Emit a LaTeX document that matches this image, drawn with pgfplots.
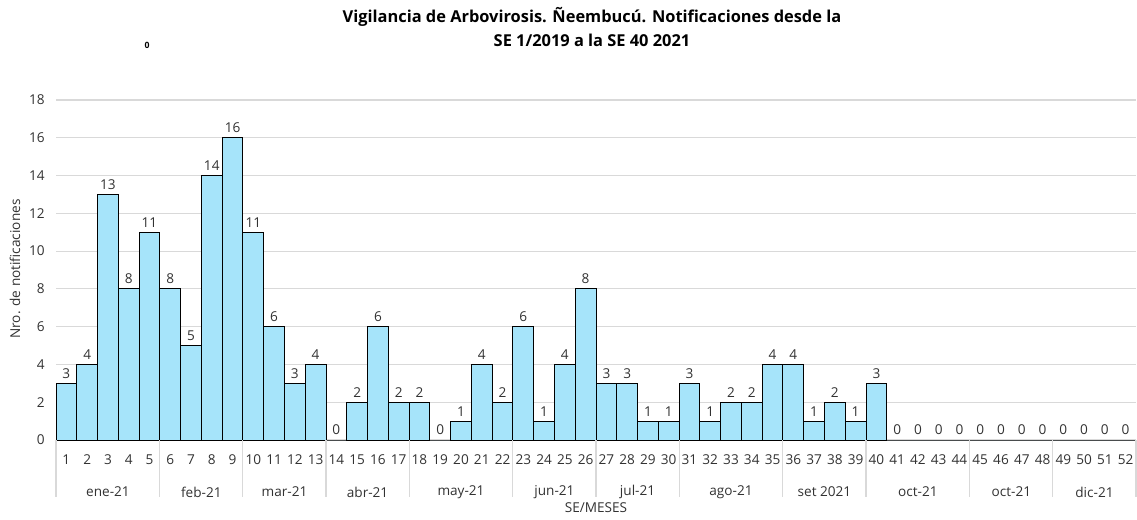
\documentclass[border=0pt]{standalone}
\usepackage{pgfplots}
\pgfplotsset{compat=1.18}
\usepackage{pgfplotstable}
\usepackage{fontspec}
\setmainfont{Open Sans}
\definecolor{barfill}{RGB}{166,228,250}
\definecolor{gridc}{RGB}{217,217,217}
\definecolor{txt}{RGB}{50,50,50}
\pgfplotstableread{
x y
1 3
2 4
3 13
4 8
5 11
6 8
7 5
8 14
9 16
10 11
11 6
12 3
13 4
14 0
15 2
16 6
17 2
18 2
19 0
20 1
21 4
22 2
23 6
24 1
25 4
26 8
27 3
28 3
29 1
30 1
31 3
32 1
33 2
34 2
35 4
36 4
37 1
38 2
39 1
40 3
41 0
42 0
43 0
44 0
45 0
46 0
47 0
48 0
49 0
50 0
51 0
52 0
}\datatable
\begin{document}
\begin{tikzpicture}[x=0.75pt,y=0.75pt]
\useasboundingbox (0,0) rectangle (1137,519);
\begin{axis}[
  at={(42pt,59.25pt)}, anchor=south west, scale only axis,
  width=810pt, height=255pt,
  xmin=0.5, xmax=52.5, ymin=0, ymax=18,
  ytick={0,2,...,18}, xtick={1,...,52},
  /pgf/number format/assume math mode=true,
  axis line style={draw=none},
  major tick length=0pt,
  ymajorgrids, grid style={gridc, line width=0.8pt},
  ticklabel style={font=\fontsize{10.2}{11}\selectfont, text=txt},
  xticklabel style={yshift=-7.5pt},
  yticklabel style={xshift=-5pt},
  clip=false,
  ybar, bar width=1,
  nodes near coords,
  every node near coord/.append style={font=\fontsize{10.2}{11}\selectfont, text=txt},
]
\addplot[fill=barfill, draw=black, line width=0.75pt, bar shift=0pt] table[x=x,y=y] {\datatable};
\foreach \s in {0.5,5.5,9.5,13.5,17.5,22.5,26.5,30.5,35.5,39.5,44.5,48.5,52.5}{
  \edef\temp{\noexpand\draw[gridc, line width=0.8pt] (axis cs:\s,0) -- ++(0pt,-43pt);}
  \temp
}
\foreach \m/\lab in {3/ene-21,7.5/feb-21,11.5/mar-21,15.5/abr-21,20/may-21,24.5/jun-21,28.5/jul-21,33/ago-21,37.5/set 2021,42/oct-21,46.5/oct-21,50.5/dic-21}{
  \edef\temp{\noexpand\node[font=\noexpand\fontsize{10.2}{11}\noexpand\selectfont, text=txt] at (axis cs:\m,0) [yshift=-39pt] {\lab};}
  \temp
}
\end{axis}
\node[font=\fontsize{10.2}{11}\selectfont, text=txt] at (596,11) {SE/MESES};
\node[font=\fontsize{10.2}{11}\selectfont, text=txt, rotate=90] at (15,250) {Nro. de notificaciones};
\node[font=\bfseries\fontsize{12.3}{14}\selectfont, text=black] at (592,502) {Vigilancia de Arbovirosis. Ñeembucú. Notificaciones desde la};
\node[font=\bfseries\fontsize{12.3}{14}\selectfont, text=black] at (592,479) {SE 1/2019 a la SE 40 2021};
\node[font=\bfseries\fontsize{6.5}{8}\selectfont, text=black] at (147,474) {0};
\end{tikzpicture}
\end{document}
